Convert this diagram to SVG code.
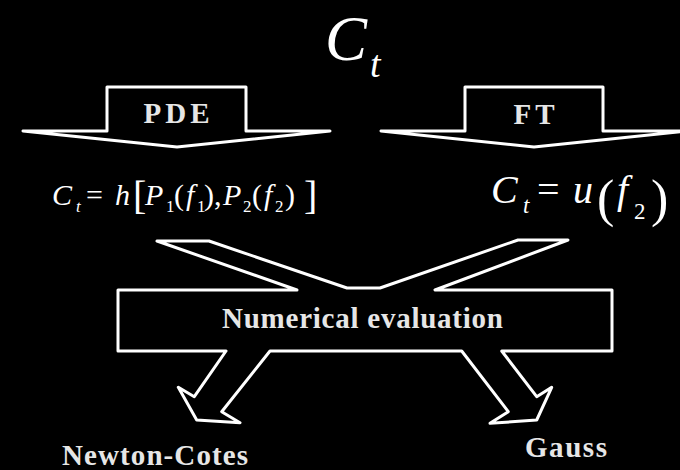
<svg xmlns="http://www.w3.org/2000/svg" width="680" height="470" viewBox="0 0 680 470">
<style>
.outline{fill:none;stroke:#ffffff;stroke-width:3;stroke-linejoin:round}
.lbl{font-weight:bold;fill:#e6e6e6;font-size:29px}
.m{fill:#ffffff}
.i{font-style:italic}
</style>
<rect x="0" y="0" width="680" height="470" fill="#000000"/>
<g font-family="Liberation Serif, DejaVu Serif, Times New Roman, Tinos, Noto Serif, FreeSerif, serif">
<g id="title">
<text class="m" x="325" y="60" font-size="63"><tspan class="i">C</tspan><tspan class="i" x="370" y="77" font-size="38">t</tspan></text>
</g>
<g id="pde">
<path class="outline" d="M23,131 L107,131 L107,87 L246,87 L246,131 L330,131 L177,147 Z"/>
<text class="lbl" x="176.5" y="123" text-anchor="middle" textLength="66">PDE</text>
</g>
<g id="ft">
<path class="outline" d="M381,131 L465,131 L465,87 L603,87 L603,131 L687,131 L534,147 Z"/>
<text class="lbl" x="534" y="124" text-anchor="middle" textLength="41">FT</text>
</g>
<g id="eq-pde">
<text class="m" x="52" y="205" font-size="30"><tspan class="i">C</tspan><tspan class="i" x="76" y="212" font-size="17">t</tspan><tspan x="86" y="205">=</tspan><tspan class="i" x="115" y="205">h</tspan><tspan x="133" y="209" font-size="40">[</tspan><tspan class="i" x="145" y="205">P</tspan><tspan x="166" y="212" font-size="17">1</tspan><tspan x="174" y="205">(</tspan><tspan class="i" x="186" y="205">f</tspan><tspan x="197" y="212" font-size="17">1</tspan><tspan x="204" y="205">),</tspan><tspan class="i" x="223" y="205">P</tspan><tspan x="243" y="212" font-size="17">2</tspan><tspan x="252" y="205">(</tspan><tspan class="i" x="264" y="205">f</tspan><tspan x="275" y="212" font-size="17">2</tspan><tspan x="285" y="205">)</tspan><tspan x="304" y="209" font-size="40">]</tspan></text>
</g>
<g id="eq-ft">
<text class="m" x="491" y="203" font-size="40"><tspan class="i">C</tspan><tspan class="i" x="523" y="213" font-size="23">t</tspan><tspan x="537" y="203">=</tspan><tspan class="i" x="573" y="203">u</tspan><tspan x="597" y="216" font-size="52">(</tspan><tspan class="i" x="617" y="203">f</tspan><tspan x="634" y="219" font-size="23">2</tspan><tspan x="651" y="216" font-size="52">)</tspan></text>
</g>
<g id="numerical">
<path class="outline" d="M118,290 L297,290 L157,241 L209,241 L347,288 L380,288 L518,240 L568,240 L435,290 L612,290 L612,351 L501.7,351 L536.7,396.7 L551.7,387.3 L536.7,420 L490,423.3 L508.3,411.7 L461.7,351 L270,351 L221.7,411.7 L240,422.7 L196.7,420 L178.3,387.3 L194.3,396.7 L226,351 L118,351 Z"/>
<text class="lbl" x="362.5" y="328" text-anchor="middle" textLength="281">Numerical evaluation</text>
</g>
<g id="newton-cotes">
<text class="lbl" x="155" y="465" text-anchor="middle" textLength="186">Newton-Cotes</text>
</g>
<g id="gauss">
<text class="lbl" x="566" y="457" text-anchor="middle" textLength="82">Gauss</text>
</g>
</g>
<g id="connectors"/>
</svg>
